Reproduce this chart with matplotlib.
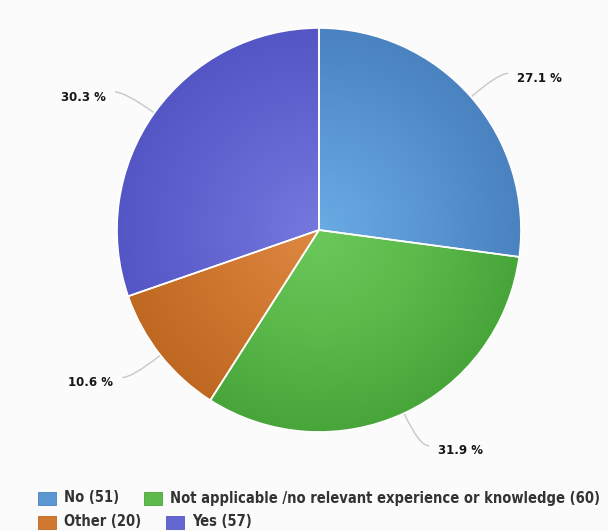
import numpy as np
import matplotlib
matplotlib.use("Agg")
import matplotlib.pyplot as plt
from matplotlib.colors import LinearSegmentedColormap
from matplotlib.path import Path
from matplotlib.patches import PathPatch, Rectangle

# survey answers, clockwise from 12 o'clock
categories = ["No", "Not applicable /no relevant experience or knowledge", "Other", "Yes"]
counts = [51, 60, 20, 57]
light_colors = ["#6aabe4", "#6bc95b", "#dd8842", "#7579dd"]
mid_colors = ["#5a97d3", "#5cba4b", "#d07830", "#6466d2"]
dark_colors = ["#4a83bf", "#48a53a", "#bf6822", "#5356c4"]

W, H = 608, 531
cx, cy, R = 319, H - 230, 202

fig = plt.figure(figsize=(W / 100, H / 100), dpi=100, facecolor="#fbfbfb")
ax = fig.add_axes([0, 0, 1, 1])
ax.set_facecolor("#fbfbfb")

wedges, _ = ax.pie(counts, startangle=90, counterclock=False, center=(cx, cy),
                   radius=R, colors=mid_colors,
                   wedgeprops=dict(edgecolor="white", linewidth=1.2))
ax.set_xlim(0, W)
ax.set_ylim(0, H)
ax.set_aspect("equal")
ax.axis("off")

# radial shading, a bit lighter in the middle, darker to the rim
yy, xx = np.mgrid[-1:1:300j, -1:1:300j]
dist = np.clip(np.hypot(xx, yy), 0, 1)
for w, c1, c2, c3 in zip(wedges, light_colors, mid_colors, dark_colors):
    cmap = LinearSegmentedColormap.from_list("g", [c1, c2, c3])
    im = ax.imshow(dist, cmap=cmap, vmin=0, vmax=1, origin="lower",
                   extent=(cx - R, cx + R, cy - R, cy + R), zorder=w.get_zorder())
    im.set_clip_path(w)
    w.set_facecolor("none")
    w.set_zorder(w.get_zorder() + 0.5)

# percentage labels with soft connectors
total = sum(counts)
for w, n in zip(wedges, counts):
    ang = np.deg2rad((w.theta1 + w.theta2) / 2)
    side = 1 if np.cos(ang) >= 0 else -1
    p0 = (cx + R * np.cos(ang), cy + R * np.sin(ang))
    p1 = (cx + 238 * np.cos(ang), cy + 238 * np.sin(ang))
    p2 = (p1[0] + side * 10, p1[1])
    path = Path([p0, p1, p2], [Path.MOVETO, Path.CURVE3, Path.CURVE3])
    ax.add_patch(PathPatch(path, facecolor="none", edgecolor="#c8c8c8", lw=1))
    ax.text(p2[0] + side * 9, p2[1] - 5, f"{100 * n / total:.1f} %",
            ha="left" if side > 0 else "right", va="center",
            fontsize=8.5, fontweight="bold", color="#161616")

# legend laid out in two rows like the original
rows = [[0, 1], [2, 3]]
row_y = [H - 498, H - 522]
renderer = fig.canvas.get_renderer()
for row, y in zip(rows, row_y):
    x = 38
    for i in row:
        ax.add_patch(Rectangle((x, y - 6.5), 18, 13, facecolor=mid_colors[i],
                               edgecolor=dark_colors[i], lw=0.6))
        t = ax.text(x + 26, y, f"{categories[i]} ({counts[i]})", ha="left", va="center",
                    fontsize=10.5, fontweight="bold", fontstretch="condensed",
                    color="#333333")
        bb = t.get_window_extent(renderer)
        x = bb.x1 + 25

fig.savefig("out.png", dpi=100, facecolor=fig.get_facecolor())
